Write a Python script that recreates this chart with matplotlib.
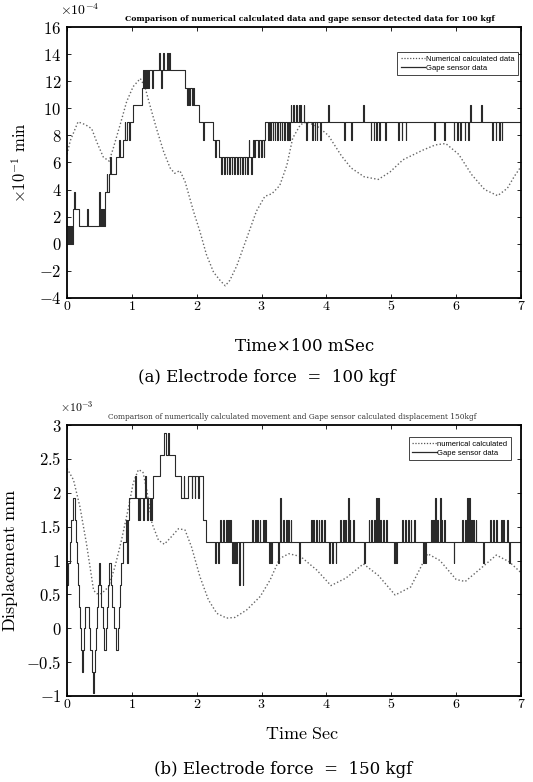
import numpy as np
import matplotlib
matplotlib.use("Agg")
import matplotlib.pyplot as plt
from matplotlib.ticker import FuncFormatter, MultipleLocator
from matplotlib.lines import Line2D

plt.rcParams['mathtext.fontset'] = 'cm'
plt.rcParams['font.family'] = ['DejaVu Serif']

# ---------------- Panel (a): 100 kgf  (values in units of 1e-4) ----------------
a_num_t = [0.00, 0.05, 0.17, 0.28, 0.38, 0.46, 0.56, 0.65, 0.71, 0.82, 0.92, 1.02, 1.13,
           1.20, 1.28, 1.38, 1.49, 1.59, 1.66, 1.74, 1.82, 1.95, 2.05, 2.15, 2.26, 2.36,
           2.44, 2.51, 2.62, 2.77, 2.92, 3.05, 3.16, 3.28, 3.39, 3.48, 3.60, 3.70, 3.88,
           4.03, 4.23, 4.38, 4.58, 4.80, 4.98, 5.18, 5.48, 5.68, 5.84, 6.04, 6.24, 6.44,
           6.64, 6.79, 6.90, 7.00]
a_num_v = [6.6, 7.6, 9.0, 8.8, 8.5, 7.5, 6.4, 6.1, 7.0, 8.8, 10.5, 11.6, 12.2,
           11.6, 10.2, 8.5, 6.8, 5.6, 5.2, 5.4, 4.6, 2.4, 0.9, -0.8, -2.1, -2.7,
           -3.1, -2.7, -1.6, 0.4, 2.4, 3.5, 3.7, 4.3, 5.8, 7.8, 8.8, 9.0, 8.6,
           8.0, 6.5, 5.6, 4.95, 4.75, 5.3, 6.2, 6.9, 7.3, 7.4, 6.6, 5.1, 4.0,
           3.55, 4.1, 5.0, 5.7]

a_q = 1.28  # quantisation step of gape sensor (x1e-4)
a_base_t = [0.00, 0.10, 0.18, 0.58, 0.64, 0.75, 0.86, 0.93, 1.02, 1.15, 1.27, 1.82,
            1.93, 2.03, 2.25, 2.35, 2.90, 3.06, 7.00]
a_base_k = [1, 2, 1, 3, 4, 5, 6, 7, 8, 9, 10, 9,
            8, 7, 6, 5, 6, 7, 7]
a_spike_t = [0.02, 0.05, 0.08, 0.11, 0.31, 0.50, 0.53, 0.56, 0.61, 0.67, 0.70, 0.73,
             0.80, 0.83, 0.89, 0.96, 0.98, 1.17, 1.21, 1.24, 1.31, 1.42, 1.45, 1.48,
             1.54, 1.57, 1.85, 1.88, 1.95, 2.10, 2.20, 2.23, 2.28, 2.38, 2.42, 2.46,
             2.50, 2.54, 2.58, 2.62, 2.66, 2.70, 2.74, 2.78, 2.80, 2.84, 2.87, 2.95,
             2.99, 3.03, 3.10, 3.13, 3.17, 3.20, 3.24, 3.28, 3.31, 3.35, 3.39, 3.42,
             3.45, 3.49, 3.53, 3.57, 3.60, 3.65, 3.69, 3.78, 3.82, 3.85, 3.90, 4.03,
             4.27, 4.38, 4.57, 4.68, 4.73, 4.77, 4.81, 4.91, 5.11, 5.16, 5.22, 5.66,
             5.81, 5.96, 6.01, 6.06, 6.13, 6.18, 6.22, 6.39, 6.55, 6.61, 6.66, 6.70]
a_spike_k = [0, 0, 0, 3, 2, 3, 2, 2, 4, 5, 4, 4,
             6, 5, 7, 6, 7, 10, 10, 10, 9, 11, 9, 11,
             11, 11, 8, 8, 9, 6, 7, 7, 5, 4, 4, 4,
             4, 4, 4, 4, 4, 4, 4, 4, 6, 4, 6, 5,
             5, 5, 6, 6, 6, 6, 6, 6, 6, 6, 6, 6,
             8, 8, 8, 8, 8, 8, 6, 6, 6, 6, 6, 8,
             6, 6, 8, 6, 6, 6, 6, 6, 6, 6, 6, 6,
             6, 6, 6, 6, 6, 6, 8, 8, 6, 6, 6, 6]

# ---------------- Panel (b): 150 kgf  (values in units of 1e-3) ----------------
b_num_t = [0.00, 0.10, 0.20, 0.30, 0.41, 0.46, 0.53, 0.64, 0.74, 0.84, 0.95, 1.02, 1.10,
           1.17, 1.23, 1.31, 1.41, 1.50, 1.59, 1.72, 1.82, 1.92, 2.05, 2.18, 2.31, 2.46,
           2.59, 2.77, 2.98, 3.13, 3.28, 3.42, 3.60, 3.85, 4.07, 4.30, 4.57, 4.80, 5.06,
           5.30, 5.56, 5.75, 6.00, 6.14, 6.40, 6.62, 6.82, 7.00]
b_num_v = [2.36, 2.19, 1.79, 1.25, 0.56, 0.51, 0.51, 0.61, 0.91, 1.30, 1.79, 2.14, 2.34,
           2.31, 2.04, 1.55, 1.30, 1.24, 1.33, 1.47, 1.45, 1.20, 0.76, 0.42, 0.22, 0.15,
           0.16, 0.27, 0.47, 0.71, 1.03, 1.10, 1.06, 0.86, 0.63, 0.74, 0.95, 0.78, 0.49,
           0.61, 1.10, 1.00, 0.72, 0.69, 0.90, 1.08, 0.98, 0.82]

b_q = 0.32  # quantisation step of gape sensor (x1e-3)
b_base_t = [0.00, 0.02, 0.04, 0.06, 0.09, 0.12, 0.135, 0.15, 0.165, 0.18, 0.195, 0.21,
            0.225, 0.245, 0.26, 0.275, 0.345, 0.36, 0.38, 0.40, 0.42, 0.435, 0.45, 0.465,
            0.48, 0.49, 0.51, 0.53, 0.55, 0.57, 0.60, 0.615, 0.63, 0.65, 0.68, 0.70,
            0.72, 0.75, 0.78, 0.80, 0.82, 0.84, 0.87, 0.91, 0.95, 1.33, 1.43, 1.49,
            1.53, 1.55, 1.58, 1.66, 1.76, 1.86, 2.10, 2.15, 7.00]
b_base_k = [2, 3, 4, 5, 6, 5, 4, 3, 2, 1, 0, -1,
            -2, -1, 0, 1, 0, -1, -2, -3, -2, -1, 0, 1,
            2, 3, 2, 1, 0, -1, 0, 1, 2, 3, 2, 1,
            0, -1, 0, 1, 2, 3, 4, 5, 6, 7, 8, 9,
            8, 9, 8, 7, 6, 7, 5, 4, 4]
b_spike_t = [0.89, 0.93, 1.05, 1.10, 1.12, 1.17, 1.20, 1.24, 1.28, 1.30, 1.80, 1.92,
             1.97, 2.02, 2.28, 2.33, 2.36, 2.41, 2.45, 2.48, 2.52, 2.55, 2.58, 2.61,
             2.65, 2.71, 2.85, 2.90, 2.93, 2.97, 3.02, 3.05, 3.12, 3.15, 3.26, 3.29,
             3.33, 3.38, 3.41, 3.45, 3.58, 3.76, 3.80, 3.84, 3.88, 3.92, 3.96, 4.04,
             4.09, 4.14, 4.21, 4.26, 4.29, 4.33, 4.36, 4.41, 4.58, 4.65, 4.69, 4.74,
             4.77, 4.80, 4.83, 4.87, 4.92, 5.04, 5.07, 5.17, 5.21, 5.26, 5.30, 5.35,
             5.49, 5.52, 5.61, 5.64, 5.68, 5.71, 5.75, 5.77, 5.81, 5.96, 6.09, 6.14,
             6.17, 6.20, 6.23, 6.26, 6.30, 6.42, 6.52, 6.57, 6.62, 6.69, 6.72, 6.79,
             6.82]
b_spike_k = [4, 3, 7, 5, 5, 5, 7, 5, 5, 5, 7, 6,
             6, 6, 3, 3, 5, 5, 5, 5, 5, 3, 3, 3,
             2, 2, 5, 5, 5, 5, 5, 5, 3, 3, 3, 6,
             5, 5, 5, 5, 3, 5, 5, 5, 5, 5, 5, 3,
             3, 3, 5, 5, 5, 6, 5, 5, 3, 5, 5, 5,
             6, 6, 5, 5, 5, 3, 3, 5, 5, 5, 5, 5,
             3, 3, 5, 5, 6, 5, 6, 5, 5, 3, 5, 5,
             6, 6, 5, 5, 5, 3, 5, 5, 5, 5, 5, 5,
             3]


def sensor_steps(base_t, base_k, spike_t, spike_k, q, w=0.011):
    bt = np.asarray(base_t, float)
    bk = np.asarray(base_k, float)
    pts = list(zip(bt, bk))
    for t, k in zip(spike_t, spike_k):
        i = np.searchsorted(bt, t, side='right') - 1
        pts.append((t, float(k)))
        pts.append((t + w, bk[i]))
    pts.sort(key=lambda p: p[0])
    tt = np.array([p[0] for p in pts])
    kk = np.array([p[1] for p in pts])
    return tt, kk * q


fig = plt.figure(figsize=(5.33, 7.82), dpi=100)
W, H = 533.0, 782.0


def px_axes(l, t, r, b):
    return fig.add_axes([l / W, 1 - b / H, (r - l) / W, (b - t) / H])


mfmt = FuncFormatter(lambda v, p: r"$%s$" % ('%g' % v))

# ---------- top axes ----------
ax1 = px_axes(67, 27, 521, 298)
ax1.plot(a_num_t, a_num_v, linestyle=(0, (1, 1.6)), color='#666666', lw=1.0)
st, sv = sensor_steps(a_base_t, a_base_k, a_spike_t, a_spike_k, a_q)
ax1.plot(st, sv, drawstyle='steps-post', color='#2a2a2a', lw=0.8)
ax1.set_xlim(0, 7)
ax1.set_ylim(-4, 16)
ax1.xaxis.set_major_locator(MultipleLocator(1))
ax1.yaxis.set_major_locator(MultipleLocator(2))

# ---------- bottom axes ----------
ax2 = px_axes(67, 425, 521, 696)
ax2.plot(b_num_t, b_num_v, linestyle=(0, (1, 1.6)), color='#666666', lw=1.0)
st, sv = sensor_steps(b_base_t, b_base_k, b_spike_t, b_spike_k, b_q)
ax2.plot(st, sv, drawstyle='steps-post', color='#2a2a2a', lw=0.8)
ax2.set_xlim(0, 7)
ax2.set_ylim(-1, 3)
ax2.xaxis.set_major_locator(MultipleLocator(1))
ax2.yaxis.set_major_locator(MultipleLocator(0.5))

for ax in (ax1, ax2):
    for s in ax.spines.values():
        s.set_linewidth(1.3)
    ax.tick_params(direction='in', length=3, width=0.6, top=True, right=True)
    ax.tick_params(axis='x', labelsize=10, pad=1)
    ax.tick_params(axis='y', labelsize=12, pad=4)
    ax.xaxis.set_major_formatter(mfmt)
    ax.yaxis.set_major_formatter(mfmt)

# titles
fig.text(310 / W, 1 - 19 / H,
         "Comparison of numerical calculated data and gape sensor detected data for 100 kgf",
         ha='center', va='center', fontsize=5.6, fontweight='bold', family='DejaVu Serif')
fig.text(292 / W, 1 - 417 / H,
         "Comparison of numerically calculated movement and Gape sensor calculated displacement 150kgf",
         ha='center', va='center', fontsize=5.3, color='#333333', family='DejaVu Serif')

# offset texts
fig.text(60 / W, 1 - 10 / H, r"$\times10^{-4}$", ha='left', va='center', fontsize=10)
fig.text(60 / W, 1 - 407 / H, r"$\times10^{-3}$", ha='left', va='center', fontsize=8.5)

# axis labels
ax1.set_ylabel(r"$\times10^{-1}\ \mathrm{min}$", fontsize=12, labelpad=6)
fig.text(305 / W, 1 - 347 / H, "Time×100 mSec", ha='center', va='center', fontsize=12)
fig.text(267 / W, 1 - 377 / H, "(a) Electrode force  =  100 kgf", ha='center', va='center',
         fontsize=12)
ax2.set_ylabel(r"$\mathrm{Displacement\ mm}$", fontsize=13, labelpad=4)
fig.text(302 / W, 1 - 734 / H, r"$\mathrm{Time\ Sec}$", ha='center', va='center', fontsize=13)
fig.text(283 / W, 1 - 769 / H, "(b) Electrode force  =  150 kgf", ha='center', va='center',
         fontsize=12)

# legends
lfont = {'family': 'Liberation Sans', 'size': 5.5}
h1 = [Line2D([], [], linestyle=(0, (1, 1.3)), color='#555555', lw=0.9),
      Line2D([], [], color='#2a2a2a', lw=0.9)]
leg1 = ax1.legend(h1, ["Numerical calculated data", "Gape sensor data"], loc='upper right',
                  bbox_to_anchor=(0.993, 0.908), prop=lfont, fancybox=False, framealpha=1,
                  edgecolor='#444444', handlelength=3.2, handletextpad=0.1, borderpad=0.45,
                  labelspacing=0.25, borderaxespad=0)
leg1.get_frame().set_linewidth(0.7)
leg2 = ax2.legend(h1, ["numerical calculated", "Gape sensor data"], loc='upper right',
                  bbox_to_anchor=(0.978, 0.956), prop=lfont, fancybox=False, framealpha=1,
                  edgecolor='#444444', handlelength=3.2, handletextpad=0.1, borderpad=0.45,
                  labelspacing=0.25, borderaxespad=0)
leg2.get_frame().set_linewidth(0.7)

fig.savefig("out.png", dpi=100)
